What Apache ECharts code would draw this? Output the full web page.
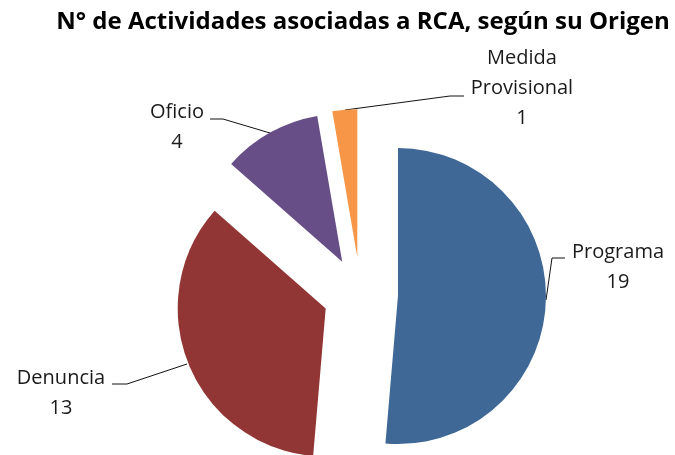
<!DOCTYPE html>
<html>
<head>
<meta charset="utf-8">
<script src="https://cdn.jsdelivr.net/npm/echarts@6/dist/echarts.min.js"></script>
<style>
  html, body { margin: 0; padding: 0; background: #fff; }
  #chart { width: 675px; height: 455px; }
</style>
</head>
<body>
<div id="chart"></div>
<script>
// datos del gráfico
var categorias = ['Programa', 'Denuncia', 'Oficio', 'Medida\nProvisional'];
var valores = [19, 13, 4, 1];
var colores = ['#3F6897', '#913634', '#674E86', '#F79646'];

// disposición: centro del pie, radio y separación de cada sector
var centro = [360.5, 294.5];
var radio = 148;
var separacion = 37.5;

// posición de cada etiqueta y puntos de su línea guía
var posEtiquetas = [
  { x: 618, y: 267, linea: [[546, 300], [552, 258], [565, 258]] },
  { x: 61, y: 393, linea: [[187, 364], [127, 384], [112, 384]] },
  { x: 177, y: 127, linea: [[270, 133], [223, 119], [210, 119]] },
  { x: 522, y: 88, linea: [[345, 110], [450, 96], [464, 96]] }
];

var chart = echarts.init(document.getElementById('chart'));

var total = valores.reduce(function (a, b) { return a + b; }, 0);
var acumulado = 0;

// un pie por sector, desplazado según su ángulo medio (sector "explotado")
var series = valores.map(function (v, i) {
  var medio = (acumulado + v / 2) / total * 2 * Math.PI;
  acumulado += v;
  var cx = centro[0] + Math.sin(medio) * separacion;
  var cy = centro[1] - Math.cos(medio) * separacion;
  return {
    type: 'pie',
    center: [cx, cy],
    radius: radio,
    startAngle: 90,
    clockwise: true,
    avoidLabelOverlap: false,
    silent: true,
    emphasis: { disabled: true },
    data: categorias.map(function (c, j) {
      return {
        name: c,
        value: valores[j],
        itemStyle: { color: j === i ? colores[j] : 'rgba(0,0,0,0)' },
        label: { show: j === i },
        labelLine: { show: j === i }
      };
    }),
    label: {
      formatter: '{b}\n{c}',
      fontFamily: 'Open Sans',
      fontSize: 20,
      lineHeight: 30,
      color: '#1a1a1a',
      align: 'center'
    },
    labelLine: {
      lineStyle: { color: '#111', width: 1 }
    },
    labelLayout: function (p) {
      if (p.dataIndex !== i) return;
      var e = posEtiquetas[i];
      return {
        x: e.x,
        y: e.y,
        align: 'center',
        verticalAlign: 'middle',
        labelLinePoints: e.linea
      };
    }
  };
});

chart.setOption({
  animation: false,
  title: {
    text: 'N° de Actividades asociadas a RCA, según su Origen',
    left: 358,
    top: 5,
    textAlign: 'center',
    textStyle: {
      fontFamily: 'Open Sans',
      fontWeight: 'bold',
      fontSize: 24,
      color: '#000'
    }
  },
  series: series
});
</script>
</body>
</html>
